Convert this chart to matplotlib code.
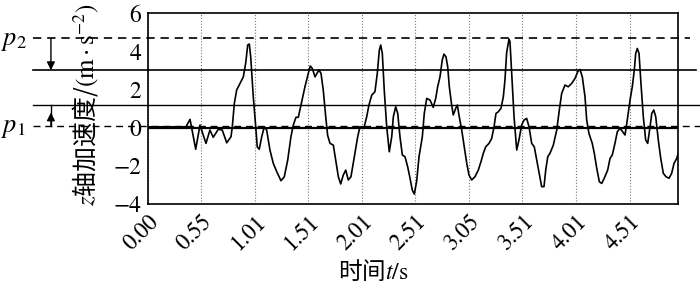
import numpy as np
import matplotlib
matplotlib.use("Agg")
import matplotlib.pyplot as plt

plt.rcParams['mathtext.fontset'] = 'stix'
plt.rcParams['axes.unicode_minus'] = True

# z-axis acceleration trace (time in s, acceleration in m/s^2)
t = [0.000, 0.355, 0.393, 0.446, 0.486, 0.542, 0.579, 0.610, 0.657, 0.694,
     0.736, 0.776, 0.788, 0.807, 0.829, 0.860, 0.891, 0.913, 0.932, 0.947,
     0.960, 0.984, 1.007, 1.021, 1.040, 1.063, 1.087, 1.109, 1.140, 1.171,
     1.203, 1.243, 1.274, 1.306, 1.336, 1.358, 1.383, 1.405, 1.436, 1.467,
     1.498, 1.517, 1.536, 1.561, 1.579, 1.598, 1.617, 1.638, 1.661, 1.679,
     1.701, 1.732, 1.754, 1.779, 1.801, 1.825, 1.848, 1.872, 1.897, 1.928,
     1.960, 1.981, 2.021, 2.044, 2.065, 2.091, 2.121, 2.143, 2.162, 2.175,
     2.190, 2.208, 2.231, 2.255, 2.278, 2.293, 2.315, 2.334, 2.355, 2.377,
     2.402, 2.427, 2.449, 2.470, 2.489, 2.511, 2.533, 2.551, 2.564, 2.582,
     2.605, 2.636, 2.666, 2.689, 2.707, 2.729, 2.750, 2.766, 2.785, 2.801,
     2.816, 2.838, 2.853, 2.876, 2.891, 2.909, 2.932, 2.956, 2.979, 3.000,
     3.025, 3.056, 3.087, 3.112, 3.134, 3.156, 3.187, 3.212, 3.234, 3.252,
     3.274, 3.299, 3.321, 3.336, 3.352, 3.374, 3.383, 3.399, 3.421, 3.446,
     3.467, 3.492, 3.514, 3.539, 3.561, 3.586, 3.610, 3.633, 3.657, 3.679,
     3.701, 3.717, 3.736, 3.757, 3.788, 3.820, 3.844, 3.866, 3.897, 3.928,
     3.960, 3.991, 4.016, 4.037, 4.059, 4.084, 4.100, 4.121, 4.152, 4.171,
     4.193, 4.218, 4.240, 4.264, 4.296, 4.318, 4.339, 4.364, 4.386, 4.411,
     4.436, 4.458, 4.479, 4.505, 4.526, 4.545, 4.558, 4.573, 4.589, 4.607,
     4.629, 4.651, 4.670, 4.692, 4.708, 4.727, 4.745, 4.769, 4.792, 4.816,
     4.841, 4.869, 4.894, 4.916, 4.941, 4.956]
acc = [0.05, 0.05, 0.44, -1.13, 0.14, -0.82, -0.12, -0.50, -0.08, -0.12,
       -0.79, -0.47, 0.05, 1.28, 1.98, 2.33, 2.67, 3.38, 4.34, 4.39,
       3.72, 1.63, 0.05, -1.00, -1.13, -0.47, 0.05, -0.12, -1.17, -1.87,
       -2.30, -2.78, -2.57, -1.69, -0.47, 0.14, 0.55, 0.55, 1.36, 2.15,
       2.85, 3.24, 3.11, 2.67, 2.85, 3.03, 2.85, 1.98, 0.58, -0.40,
       -0.82, -0.91, -1.69, -2.57, -2.95, -2.48, -2.22, -2.74, -2.57, -1.52,
       -0.47, 0.05, 0.05, 0.58, 1.19, 1.71, 1.89, 2.85, 4.07, 4.34,
       3.90, 1.98, 0.05, -1.26, -0.47, 0.58, 1.10, 0.75, -0.47, -1.43,
       -1.52, -2.05, -2.65, -3.27, -3.48, -2.80, -1.52, -0.91, -0.47, 0.75,
       1.54, 1.45, 1.07, 1.54, 2.15, 2.67, 3.55, 3.86, 3.72, 3.20,
       2.15, 1.19, 0.67, 1.02, 1.19, 0.58, -0.12, -1.00, -1.87, -2.48,
       -2.74, -2.57, -2.22, -1.78, -1.34, -1.00, -0.82, -0.56, 0.05, 0.75,
       0.84, 1.02, 1.63, 2.50, 3.95, 4.65, 4.51, 2.85, 0.58, -1.17,
       -0.64, 0.14, 0.40, 0.49, 0.05, -0.82, -1.00, -1.69, -2.39, -3.09,
       -3.09, -2.22, -1.52, -1.34, -0.91, -0.12, 0.93, 1.80, 2.24, 2.15,
       2.33, 2.59, 2.94, 3.06, 2.67, 1.63, 0.40, -0.30, -0.82, -1.34,
       -2.10, -2.83, -2.92, -2.65, -2.22, -1.61, -1.43, -0.82, -0.21, -0.03,
       -0.21, -0.38, 0.40, 1.45, 2.15, 3.03, 3.90, 4.16, 3.90, 2.33,
       0.58, -0.64, -0.82, 0.05, 0.75, 0.93, 0.58, -0.64, -1.61, -2.39,
       -2.57, -2.65, -2.39, -1.87, -1.61, -1.34]

tick_pos = [0.0, 0.5, 1.0, 1.5, 2.0, 2.5, 3.0, 3.5, 4.0, 4.5]
tick_labels = ["0.00", "0.55", "1.01", "1.51", "2.01",
               "2.51", "3.05", "3.51", "4.01", "4.51"]
y_ticks = [-4, -2, 0, 2, 4, 6]

# threshold levels
p2 = 4.69
upper = 3.02
lower = 1.17
p1 = 0.08

fig = plt.figure(figsize=(7.0, 2.91), dpi=100)
ax = fig.add_axes([0.2114, 0.299, 0.7576, 0.655])

x_end = t[-1]
ax.set_xlim(0, x_end)
ax.set_ylim(-4, 6)

# reference lines, running out past the axes on both sides
left_x = -1.075
ax.plot([left_x, 5.07], [p2, p2], color='black', lw=1.2, ls=(0, (5, 3.5)), clip_on=False)
ax.plot([left_x, 5.12], [upper, upper], color='black', lw=1.2, clip_on=False)
ax.plot([left_x, 5.2], [lower, lower], color='black', lw=1.0, clip_on=False)
ax.plot([left_x, 5.2], [p1, p1], color='black', lw=1.0, ls=(0, (5, 3.5)), clip_on=False)
ax.plot([0, x_end], [0, 0], color='black', lw=1.6)

# arrows between thresholds
arr_x = -0.907
ax.annotate("", xy=(arr_x, upper), xytext=(arr_x, p2),
            arrowprops=dict(arrowstyle='-|>', color='black', lw=1.0,
                            mutation_scale=12, shrinkA=0, shrinkB=0),
            annotation_clip=False)
ax.plot([arr_x, arr_x], [p1, lower], color='black', lw=1.0, clip_on=False)
ax.annotate("", xy=(arr_x, 0.8), xytext=(arr_x, p1),
            arrowprops=dict(arrowstyle='-|>', color='black', lw=1.0,
                            mutation_scale=12, shrinkA=0, shrinkB=0),
            annotation_clip=False)

ax.plot(t, acc, color='black', lw=1.2)

ax.set_xticks(tick_pos)
ax.set_xticklabels(tick_labels, rotation=45, ha='right', va='top',
                   rotation_mode='anchor', family='STIXGeneral', fontsize=16.5)
ax.set_yticks(y_ticks)
ax.set_yticklabels([f"{v}".replace("-", "\u2212") for v in y_ticks],
                   family='STIXGeneral', fontsize=17)
ax.tick_params(axis='both', length=0, pad=5)
ax.tick_params(axis='x', pad=5)
ax.grid(axis='x', color='#777777', ls=':', lw=0.8)
for s in ax.spines.values():
    s.set_linewidth(1.2)
    s.set_color('black')

fig.text(1 / 700, 1 - 40 / 291, r'$p_2$', fontsize=19, ha='left', va='center')
fig.text(1 / 700, 1 - 127 / 291, r'$p_1$', fontsize=19, ha='left', va='center')

fig.text(373 / 700, 1 - 271 / 291, r'时间$t/\mathrm{s}$', family='Noto Sans CJK SC',
         fontsize=17, ha='center', va='center')
fig.text(86 / 700, 1 - 105 / 291,
         '$z$轴加速度/$(\\mathrm{m}\\cdot\\mathrm{s}^{\u22122})$',
         family='Noto Sans CJK SC', fontsize=18, rotation=90,
         ha='center', va='center')

fig.savefig("out.png", dpi=100)
